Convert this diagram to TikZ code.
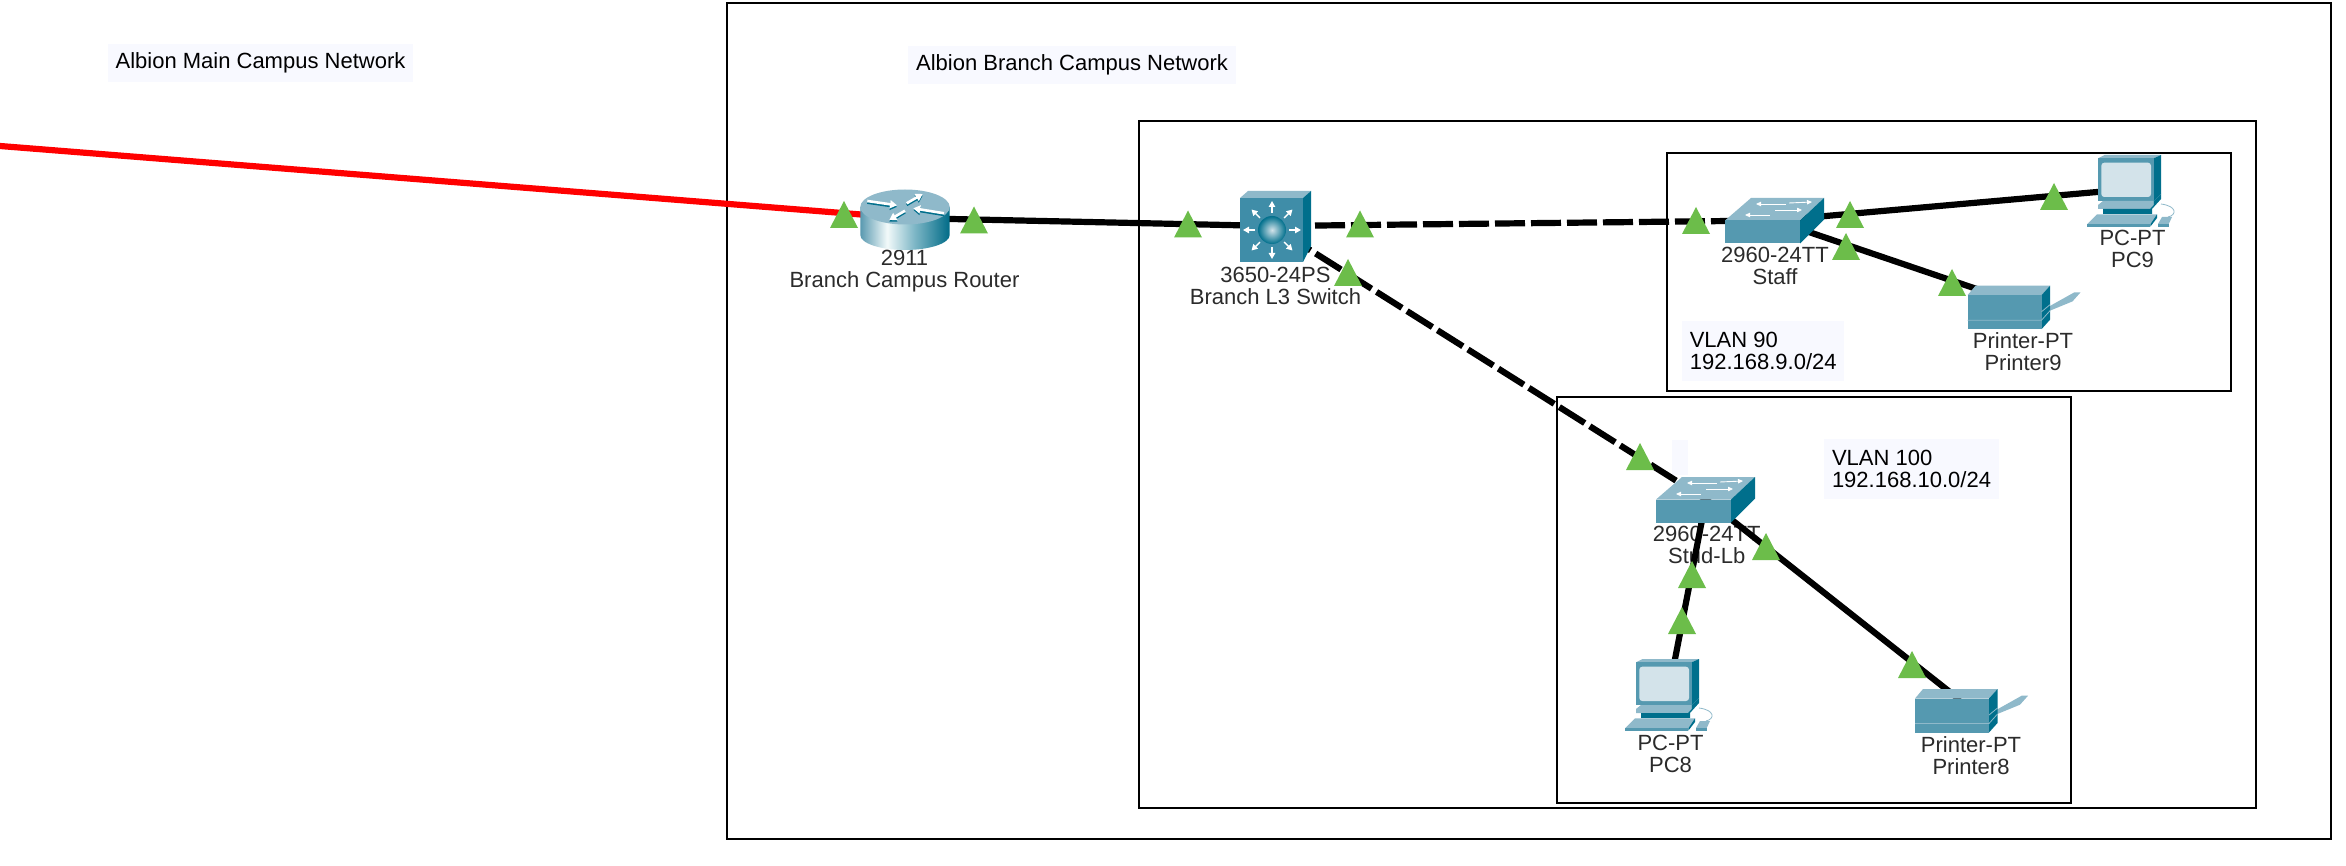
\documentclass[tikz,border=0pt]{standalone}
\usepackage{fontspec}
\setmainfont{Liberation Sans}
\usetikzlibrary{arrows.meta}
\definecolor{frontc}{HTML}{5599B0}
\definecolor{topc}{HTML}{8FB9CA}
\definecolor{sidec}{HTML}{006F8C}
\definecolor{midc}{HTML}{3F8DA8}
\definecolor{screenc}{HTML}{D3E3EA}
\definecolor{upc}{HTML}{6CBD4A}
\definecolor{notec}{HTML}{F8F9FF}
\definecolor{labc}{HTML}{2B2B2B}
\pgfdeclarehorizontalshading{routerside}{100bp}{rgb(0bp)=(0.35,0.60,0.69);rgb(25bp)=(0.35,0.60,0.69);rgb(40bp)=(0.95,0.98,0.98);rgb(55bp)=(0.50,0.72,0.78);rgb(75bp)=(0,0.42,0.53);rgb(100bp)=(0,0.42,0.53)}
\tikzset{
  x=0.5pt,y=-0.5pt,
  area/.style={draw=black,line width=1pt},
  note/.style={fill=notec,inner sep=0pt,align=left,text=black,font=\fontsize{11}{11.2}\selectfont},
  devlabel/.style={inner sep=0pt,align=center,text=labc,font=\fontsize{11}{11}\selectfont},
  dev/.style={inner sep=0pt,minimum size=1pt},
  link/.style={line width=3.1pt,black},
  fiber/.style={link,dash pattern=on 15pt off 3pt},
  wan/.style={line width=3.1pt,red},
  tinyarrow/.style={white,line width=0.45pt,-{Triangle[length=2.5pt,width=2.2pt]}},
  rarrow/.style={line width=1.3pt,-{Triangle[length=3.5pt,width=4pt]}},
  l3arrow/.style={white,line width=0.7pt,-{Triangle[length=3pt,width=3.2pt]}},
  upmark/.pic={\fill[upc] (0,27)--(14,0)--(28,27)--cycle;},
  routericon/.pic={
    \shade[shading=routerside] (-44.7,-11) -- (-44.7,17) arc[start angle=180,end angle=0,x radius=44.7,y radius=15] -- (44.7,-11) -- cycle;
    \fill[topc] (0,-11) ellipse[x radius=44.7,y radius=17.5];
    \foreach \a/\b/\c/\d in {-37.7/-17/-8/-12.7, 1.7/-14.7/17.7/-24, 39/-4.7/8.3/-9.7, 0/-7.3/-15.7/2}{
      \draw[rarrow,sidec] (\a,\b+1.6) -- (\c,\d+1.6);
      \draw[rarrow,white] (\a,\b) -- (\c,\d);
    }
  },
  l3icon/.pic={
    \fill[topc] (-32,-28)--(-24,-35)--(39,-35)--(31,-28)--cycle;
    \fill[sidec] (31,-28)--(39,-35)--(39,20)--(31,36)--cycle;
    \fill[midc] (-32,-28) rectangle (31,36);
    \foreach \a in {0,45,...,315}{
      \draw[l3arrow] ({cos(\a)*17},{4+sin(\a)*17}) -- ({cos(\a)*29},{4+sin(\a)*29});
    }
    \shade[inner color=screenc,outer color=sidec] (0,4) circle[radius=14];
  },
  switchicon/.pic={
    \fill[topc] (-50,0)--(-24,-22.5)--(49,-22.5)--(25,0)--cycle;
    \fill[sidec] (25,0)--(49,-22.5)--(49,-1)--(25,23)--cycle;
    \fill[frontc] (-50,0) rectangle (25,23);
    \draw[tinyarrow] (11,-16.5) -- (-19,-16.5);
    \draw[tinyarrow] (14,-17.5) -- (37,-18.5);
    \draw[tinyarrow] (-5,-5.5) -- (-30,-5.5);
    \draw[tinyarrow] (0,-10.5) -- (27,-10.5);
  },
  pcicon/.pic={
    \draw[topc,line width=0.4pt] (70,62) .. controls (79,60) and (79,51) .. (63,49);
    \fill[topc] (0,3.3)--(6.7,0)--(63,0)--(55.7,3.3)--cycle;
    \fill[sidec] (55.7,3.3)--(63,0)--(63,39)--(55.7,46)--cycle;
    \fill[frontc] (0,3.3) rectangle (55.7,46);
    \fill[screenc,rounded corners=1.5pt] (3.3,7.7) rectangle (53,42);
    \fill[topc] (0,50)--(5,46)--(55.7,46)--(55.7,50)--(52,54)--(0,54)--cycle;
    \fill[sidec] (55.7,46)--(63,39)--(63,44)--(54,54)--(54,59)--(5,59)--(5,54)--(52,54)--(55.7,50)--cycle;
    \fill[topc] (-11,69.3)--(-1,59.3)--(59,59.3)--(52.3,69.3)--cycle;
    \fill[frontc] (-11,69.3) rectangle (52.3,71.7);
    \fill[sidec] (52.3,69.3)--(59,59.3)--(59,63)--(52.3,71.7)--cycle;
    \fill[topc] (60,69)--(64,62)--(74,62)--(70.7,69)--cycle;
    \fill[frontc] (60,69) rectangle (70.7,71.7);
  },
  printericon/.pic={
    \fill[topc] (74,25)--(106.7,6.7)--(113,6.7)--(105,15.7)--(75,28)--cycle;
    \fill[topc] (0,9.5)--(8,0)--(82.5,0)--(74,9.5)--cycle;
    \fill[sidec] (74,9.5)--(82.5,0)--(82.5,34)--(74,43.5)--cycle;
    \fill[frontc] (0,9.5) rectangle (74,43.5);
    \draw[topc,line width=0.4pt] (0,34.5) -- (74,34.5) -- (82.5,25);
    \draw[topc,line width=0.4pt] (74,26) -- (82.5,19);
  },
}
\begin{document}
\begin{tikzpicture}
\useasboundingbox (0,0) rectangle (2346,866);
\fill[white] (0,0) rectangle (2346,866);
% areas
\draw[area] (727,3) rectangle (2331,839);
\draw[area] (1139,121) rectangle (2256,808);
\draw[area] (1667,153) rectangle (2231,391);
\draw[area] (1557,397) rectangle (2071,803);
% notes
\node[note,minimum width=152.5pt,minimum height=19pt] (mainnote) at (260.5,63) {Albion Main Campus Network};
\node[note,minimum width=164pt,minimum height=19pt] (branchnote) at (1072,65) {Albion Branch Campus Network};
\node[note,minimum width=81.25pt,minimum height=30pt] (vlan90) at (1763.2,351) {VLAN 90\\192.168.9.0/24};
\node[note,minimum width=87.5pt,minimum height=30pt] (vlan100) at (1911.5,469) {VLAN 100\\192.168.10.0/24};
\node[fill=notec,inner sep=0pt,minimum width=8pt,minimum height=17.5pt] (emptynote) at (1680,457.5) {};
% device anchors
\coordinate (edge) at (0,146);
\node[dev] (router) at (905,218) {};
\node[dev] (l3) at (1272,226) {};
\node[dev] (staff) at (1775,220.5) {};
\node[dev] (stud) at (1706,499.5) {};
\node[dev] (pc9) at (2131,189) {};
\node[dev] (pc8) at (1669,690) {};
\node[dev] (printer9) at (2012,301) {};
\node[dev] (printer8) at (1960,700) {};
% device labels
\node[devlabel] (routerlab) at (904.5,271.5) {2911\\Branch Campus Router};
\node[devlabel] (l3lab) at (1275.5,286) {3650-24PS\\Branch L3 Switch};
\node[devlabel] (stafflab) at (1775,265.5) {2960-24TT\\Staff};
\node[devlabel] (studlab) at (1706.7,544.5) {2960-24TT\\Stud-Lb};
\node[devlabel] (pc9lab) at (2132.5,249) {PC-PT\\PC9};
\node[devlabel] (pc8lab) at (1670.5,753.5) {PC-PT\\PC8};
\node[devlabel] (printer9lab) at (2023,351.5) {Printer-PT\\Printer9};
\node[devlabel] (printer8lab) at (1971,755.5) {Printer-PT\\Printer8};
% links
\draw[wan] (edge) -- (router.center);
\draw[link] (router.center) -- (l3.center);
\draw[fiber,dash phase=14.5pt] (l3.center) -- (staff.center);
\draw[fiber,dash phase=10.2pt] (l3.center) -- (stud.center);
\draw[link] (staff.center) -- (pc9.center);
\draw[link] (staff.center) -- (printer9.center);
\draw[link] (stud.center) -- (pc8.center);
\draw[link] (stud.center) -- (printer8.center);
% icons
\pic at (905,218) {routericon};
\pic at (1272,226) {l3icon};
\pic at (1775,220.5) {switchicon};
\pic at (1706,499.5) {switchicon};
\pic at (2098,155) {pcicon};
\pic at (1636,659) {pcicon};
\pic at (1967.5,285.7) {printericon};
\pic at (1915,689) {printericon};
% link status marks
\foreach \tx/\ty in {830/201,960/206.5,1174/210.5,1346/210.5,1334/259,1682/207,1836/201,1832/233,1938/269,2040/183,1626/443,1752/533,1678/561,1668/607,1898/651}{
  \pic at (\tx,\ty) {upmark};
}
\end{tikzpicture}
\end{document}
